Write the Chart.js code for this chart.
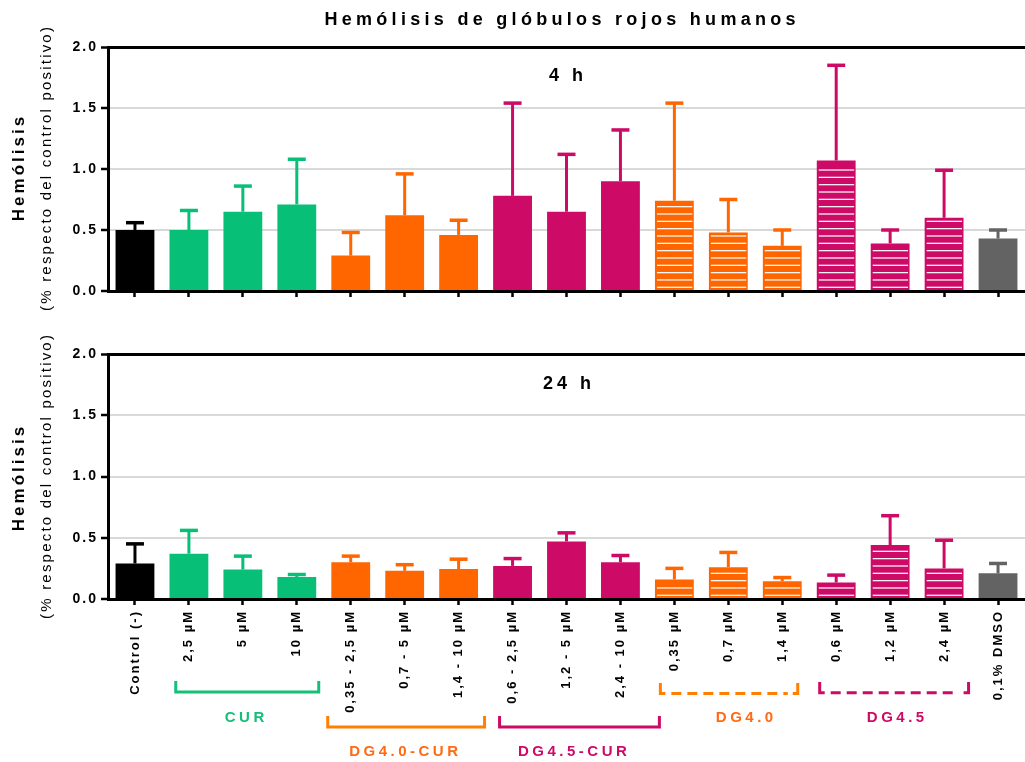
<!DOCTYPE html>
<html><head><meta charset="utf-8">
<script src="https://cdn.jsdelivr.net/npm/chart.js@4.4.1/dist/chart.umd.min.js"></script>
<style>
body{margin:0;background:#fff;width:1025px;height:762px;overflow:hidden;position:relative;font-family:"Liberation Sans",Arial,sans-serif;color:#000;}
.wrap{position:absolute;left:0;width:1025px;}
.t{position:absolute;white-space:nowrap;transform:translate(-50%,-50%);line-height:1;}
.r{transform:translate(-50%,-50%) rotate(-90deg);}
</style></head><body>
<div class="wrap" style="top:0;height:320px"><canvas id="c1" width="1025" height="320"></canvas></div>
<div class="wrap" style="top:320px;height:442px"><canvas id="c2" width="1025" height="442"></canvas></div>

<div class="t" style="left:560px;top:19px;font-size:18px;font-weight:bold;letter-spacing:4.3px;padding-left:4.3px">Hemólisis de glóbulos rojos humanos</div>
<div class="t" style="left:566px;top:75px;font-size:18px;font-weight:bold;letter-spacing:4px;padding-left:4px">4 h</div>
<div class="t" style="left:567px;top:383px;font-size:18px;font-weight:bold;letter-spacing:4px;padding-left:4px">24 h</div>
<div class="t r" style="left:18px;top:169px;font-size:17px;font-weight:bold;letter-spacing:3px;padding-left:3px">Hemólisis</div>
<div class="t r" style="left:45px;top:169px;font-size:15px;letter-spacing:2.2px;padding-left:2.2px">(% respecto del control positivo)</div>
<div class="t r" style="left:18px;top:479px;font-size:17px;font-weight:bold;letter-spacing:3px;padding-left:3px">Hemólisis</div>
<div class="t r" style="left:45px;top:477px;font-size:15px;letter-spacing:2.2px;padding-left:2.2px">(% respecto del control positivo)</div>

<script>
// ---------- data ----------
const categories = ['Control (-)','2,5 µM','5 µM','10 µM','0,35 - 2,5 µM','0,7 - 5 µM','1,4 - 10 µM',
  '0,6 - 2,5 µM','1,2 - 5 µM','2,4 - 10 µM','0,35 µM','0,7 µM','1,4 µM','0,6 µM','1,2 µM','2,4 µM','0,1% DMSO'];
const mean4h  = [0.50,0.50,0.65,0.71,0.29,0.62,0.46,0.78,0.65,0.90,0.74,0.48,0.37,1.07,0.39,0.60,0.43];
const sd4h    = [0.06,0.16,0.21,0.37,0.19,0.34,0.12,0.76,0.47,0.42,0.80,0.27,0.13,0.78,0.11,0.39,0.07];
const mean24h = [0.29,0.37,0.24,0.18,0.30,0.23,0.245,0.27,0.47,0.30,0.16,0.26,0.145,0.135,0.44,0.25,0.21];
const sd24h   = [0.16,0.19,0.11,0.02,0.05,0.05,0.08,0.06,0.07,0.055,0.09,0.12,0.03,0.06,0.24,0.23,0.08];
const yTickValues = [0, 0.5, 1.0, 1.5, 2.0];
const groupNames = ['CUR','DG4.0-CUR','DG4.5-CUR','DG4.0','DG4.5'];

// ---------- styles ----------
const BLACK='#000000', GREEN='#08bf78', ORANGE='#ff6600', MAG='#cd0a66', GRAY='#636363';
const barColors = [BLACK,GREEN,GREEN,GREEN,ORANGE,ORANGE,ORANGE,MAG,MAG,MAG,ORANGE,ORANGE,ORANGE,MAG,MAG,MAG,GRAY];
const striped = [false,false,false,false,false,false,false,false,false,false,true,true,true,true,true,true,false];
const FONT = '"Liberation Sans", Arial, sans-serif';

// bracket layout (x in category units, y in page px)
const bracketLayout = [
  {left:0.756, right:3.407, top:681, bottom:692,   textX:2.03, textY:718, color:'#14bf78', text:'#14bf78', dashed:false},
  {left:3.574, right:6.481, top:716, bottom:727,   textX:4.98, textY:752, color:'#ff7f00', text:'#ff6a13', dashed:false},
  {left:6.759, right:9.722, top:716, bottom:727,   textX:8.11, textY:752, color:'#cd0a66', text:'#cd0a66', dashed:false},
  {left:9.74,  right:12.287,top:683, bottom:693.5, textX:11.3, textY:718, color:'#ff7f00', text:'#ff6a13', dashed:true},
  {left:12.694,right:15.454,top:682, bottom:692.8, textX:14.1, textY:718, color:'#cd0a66', text:'#cd0a66', dashed:true}
];

const lsPlugin = {
  id:'ls',
  beforeUpdate(chart){ chart.ctx.letterSpacing='2px'; },
  beforeDraw(chart){ chart.ctx.letterSpacing='2px'; }
};

const errorBarPlugin = {
  id:'errorBars',
  afterDatasetsDraw(chart){
    const ctx = chart.ctx, ys = chart.scales.y;
    const ds = chart.data.datasets[0], meta = chart.getDatasetMeta(0);
    ctx.save();
    meta.data.forEach((bar,i)=>{
      if(!ds.striped[i]) return;
      const p = bar.getProps(['x','y','base','width'], true);
      ctx.fillStyle = 'rgba(255,255,255,0.95)';
      for(let yy = p.base - 2.7; yy > p.y + 3; yy -= 7.33){
        ctx.fillRect(p.x - p.width/2 + 2, yy - 0.65, p.width - 3.5, 1.3);
      }
    });
    meta.data.forEach((bar,i)=>{
      const p = bar.getProps(['x','y'], true);
      const yTop = ys.getPixelForValue(ds.data[i] + ds.errors[i]);
      ctx.strokeStyle = barColors[i];
      ctx.lineCap = 'butt';
      ctx.lineWidth = 3;
      ctx.beginPath(); ctx.moveTo(p.x, p.y); ctx.lineTo(p.x, yTop); ctx.stroke();
      ctx.lineWidth = 3.5;
      ctx.beginPath(); ctx.moveTo(p.x-9, yTop); ctx.lineTo(p.x+9, yTop); ctx.stroke();
    });
    ctx.restore();
  }
};

const bracketPlugin = {
  id:'brackets',
  afterDraw(chart){
    const ctx = chart.ctx, xs = chart.scales.x, off = 320;
    ctx.save();
    bracketLayout.forEach((b,k)=>{
      const l = xs.getPixelForValue(b.left), r = xs.getPixelForValue(b.right);
      const t = b.top - off, bt = b.bottom - off;
      ctx.strokeStyle = b.color; ctx.lineWidth = 3; ctx.lineJoin='miter'; ctx.lineCap='butt';
      ctx.setLineDash([]);
      if(!b.dashed){
        ctx.beginPath(); ctx.moveTo(l,t); ctx.lineTo(l,bt); ctx.lineTo(r,bt); ctx.lineTo(r,t); ctx.stroke();
      } else {
        ctx.beginPath(); ctx.moveTo(l,t); ctx.lineTo(l,bt); ctx.lineTo(l+5,bt); ctx.stroke();
        ctx.beginPath(); ctx.moveTo(r-5,bt); ctx.lineTo(r,bt); ctx.lineTo(r,t); ctx.stroke();
        ctx.setLineDash([10,6]);
        ctx.beginPath(); ctx.moveTo(l+11,bt); ctx.lineTo(r-10,bt); ctx.stroke();
        ctx.setLineDash([]);
      }
      ctx.fillStyle = b.text;
      ctx.font = 'bold 15px ' + FONT;
      ctx.letterSpacing = '3.5px';
      ctx.textAlign = 'center'; ctx.textBaseline = 'middle';
      ctx.fillText(groupNames[k], xs.getPixelForValue(b.textX) + 1.75, b.textY - off);
    });
    ctx.restore();
  }
};

function makeChart(id, mean, sd, showLabels, padTop, xHeight, extra){
  return new Chart(document.getElementById(id), {
    type:'bar',
    data:{labels:categories, datasets:[{data:mean, errors:sd, striped:striped,
      backgroundColor:barColors, borderWidth:0, barPercentage:0.72, categoryPercentage:1}]},
    options:{
      responsive:false, animation:false, devicePixelRatio:1,
      layout:{padding:{top:padTop,left:0,right:0,bottom:0}},
      plugins:{legend:{display:false}, tooltip:{enabled:false}, title:{display:false}},
      scales:{
        x:{ type:'category', offset:true,
          grid:{display:true, drawOnChartArea:false, drawTicks:true, tickLength:6, tickColor:'#000', tickWidth:2.5, offset:false, z:1},
          border:{display:true, color:'#000', width:3, z:1},
          ticks:{display:showLabels, autoSkip:false, maxRotation:90, minRotation:90, padding:5, color:'#000',
                 font:{family:FONT, size:13, weight:'bold'}},
          afterFit(s){ s.height = xHeight; }
        },
        y:{ min:0, max:2,
          afterBuildTicks(s){ s.ticks = yTickValues.map(v=>({value:v})); },
          ticks:{padding:3, color:'#000', font:{family:FONT, size:14, weight:'bold'}, callback:v=>Number(v).toFixed(1)},
          grid:{ color:c=> c.tick.value===2 ? '#000' : (c.tick.value===0 ? 'rgba(0,0,0,0)' : '#d9d9d9'),
                 lineWidth:c=> c.tick.value===2 ? 3 : 2,
                 tickColor:'#000', tickWidth:2.5, tickLength:7, drawTicks:true },
          border:{display:true, color:'#000', width:3},
          afterFit(s){ s.width = 108; }
        }
      }
    },
    plugins:[lsPlugin, errorBarPlugin].concat(extra)
  });
}

makeChart('c1', mean4h, sd4h, false, 47, 29, []);
makeChart('c2', mean24h, sd24h, true, 34, 163, [bracketPlugin]);
</script>
</body></html>
